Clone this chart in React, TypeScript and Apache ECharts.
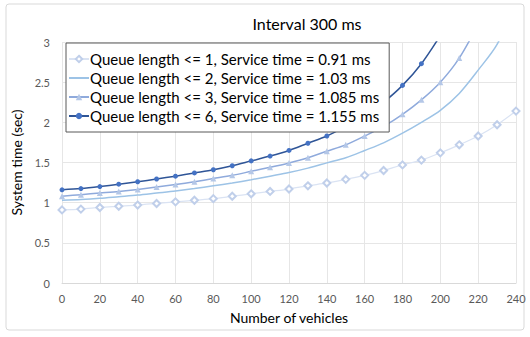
import React, { useEffect, useRef } from "react";
import * as echarts from "echarts";

const vehicles = [0, 10, 20, 30, 40, 50, 60, 70, 80, 90, 100, 110, 120, 130, 140, 150, 160, 170, 180, 190, 200, 210, 220, 230, 240];

const q1 = [0.91, 0.92, 0.94, 0.955, 0.97, 0.99, 1.01, 1.03, 1.05, 1.08, 1.11, 1.14, 1.17, 1.21, 1.245, 1.29, 1.34, 1.40, 1.47, 1.53, 1.62, 1.72, 1.83, 1.97, 2.14];
const q2 = [1.03, 1.04, 1.055, 1.075, 1.095, 1.12, 1.145, 1.175, 1.21, 1.245, 1.285, 1.33, 1.375, 1.43, 1.495, 1.56, 1.65, 1.745, 1.865, 2.0, 2.15, 2.36, 2.65, 2.97, 3.5];
const q3 = [1.08, 1.10, 1.12, 1.14, 1.165, 1.195, 1.225, 1.26, 1.30, 1.34, 1.39, 1.44, 1.495, 1.56, 1.64, 1.72, 1.83, 1.95, 2.10, 2.28, 2.50, 2.80, 3.22];
const q6 = [1.16, 1.175, 1.20, 1.23, 1.26, 1.295, 1.33, 1.37, 1.41, 1.46, 1.52, 1.58, 1.65, 1.74, 1.83, 1.95, 2.08, 2.25, 2.46, 2.73, 3.08];

const seriesNames = [
  "Queue length <= 1, Service time = 0.91 ms",
  "Queue length <= 2, Service time = 1.03 ms",
  "Queue length <= 3, Service time = 1.085 ms",
  "Queue length <= 6, Service time = 1.155 ms",
];

const titleText = "Interval 300 ms";
const xName = "Number of vehicles";
const yName = "System time (sec)";

const FONT = "Lato, 'Open Sans', sans-serif";

const pairs = (vals: number[]) => vals.map((v, i) => [vehicles[i], v]);

export default function App() {
  const ref = useRef<HTMLDivElement>(null);
  useEffect(() => {
    if (!ref.current) return;
    const chart = echarts.init(ref.current, undefined, { renderer: "svg" });
    chart.setOption({
      animation: false,
      backgroundColor: "#ffffff",
      textStyle: { fontFamily: FONT },
      title: {
        text: titleText,
        left: 302,
        top: 10,
        textAlign: "center",
        textStyle: { fontFamily: FONT, fontSize: 16, fontWeight: "normal", color: "#000000" },
      },
      graphic: [
        {
          type: "rect",
          shape: { x: 6, y: 4, width: 518, height: 326, r: 3 },
          style: { fill: "none", stroke: "#d9d9d9", lineWidth: 1 },
          z: -1,
        },
      ],
      legend: {
        orient: "vertical",
        left: 66,
        top: 43,
        itemWidth: 20,
        itemHeight: 8,
        itemGap: 3,
        padding: [8, 10, 8, 2],
        borderColor: "#595959",
        borderWidth: 1,
        backgroundColor: "#ffffff",
        textStyle: { fontFamily: FONT, fontSize: 15, lineHeight: 16, color: "#000000", padding: [0, 0, 0, -4] },
        data: [
          { name: seriesNames[0] },
          { name: seriesNames[1], itemStyle: { opacity: 0 } },
          { name: seriesNames[2] },
          { name: seriesNames[3] },
        ],
        z: 10,
      },
      grid: { left: 62, right: 14, top: 42, bottom: 54, containLabel: false },
      xAxis: {
        type: "value",
        min: 0,
        max: 240,
        interval: 20,
        name: xName,
        nameLocation: "middle",
        nameGap: 27,
        nameTextStyle: { fontFamily: FONT, fontSize: 14, color: "#000000" },
        axisLine: { show: true, lineStyle: { color: "#d9d9d9" } },
        axisTick: { show: false },
        axisLabel: { fontFamily: FONT, fontSize: 11, color: "#595959", margin: 10 },
        splitLine: { show: true, lineStyle: { color: "#e6e6e6" } },
      },
      yAxis: {
        type: "value",
        min: 0,
        max: 3,
        interval: 0.5,
        name: yName,
        nameLocation: "middle",
        nameGap: 35,
        nameTextStyle: { fontFamily: FONT, fontSize: 14, color: "#000000" },
        axisLine: { show: false },
        axisTick: { show: false },
        axisLabel: { fontFamily: FONT, fontSize: 11, color: "#595959", margin: 12 },
        splitLine: { show: true, lineStyle: { color: "#e6e6e6" } },
      },
      series: [
        {
          name: seriesNames[0],
          type: "line",
          data: pairs(q1),
          smooth: 0.3,
          symbol: "emptyDiamond",
          symbolSize: 7,
          lineStyle: { color: "#dae3f3", width: 1.25 },
          itemStyle: { color: "#c0cfea", borderColor: "#c0cfea", borderWidth: 1 },
        },
        {
          name: seriesNames[1],
          type: "line",
          data: pairs(q2),
          smooth: 0.3,
          symbol: "none",
          lineStyle: { color: "#9dc3e6", width: 1.5 },
          itemStyle: { color: "#9dc3e6" },
        },
        {
          name: seriesNames[2],
          type: "line",
          data: pairs(q3),
          smooth: 0.3,
          symbol: "triangle",
          symbolSize: 6,
          lineStyle: { color: "#8faadc", width: 1.5 },
          itemStyle: { color: "#b4c7e7" },
        },
        {
          name: seriesNames[3],
          type: "line",
          data: pairs(q6),
          smooth: 0.3,
          symbol: "circle",
          symbolSize: 5,
          lineStyle: { color: "#2f5597", width: 1.5 },
          itemStyle: { color: "#4472c4" },
        },
      ],
    });
    return () => chart.dispose();
  }, []);
  return <div ref={ref} style={{ width: 530, height: 337, position: "absolute", left: 0, top: 0 }} />;
}
